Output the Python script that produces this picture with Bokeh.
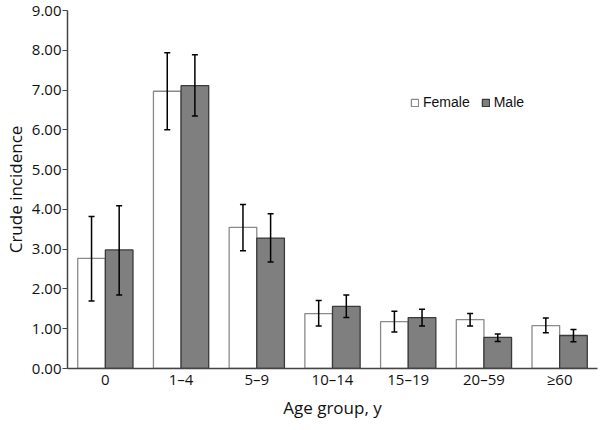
from bokeh.plotting import figure
from bokeh.models import (ColumnDataSource, FactorRange, Whisker, TeeHead, Legend,
                          LegendItem, NumeralTickFormatter, FixedTicker)
from bokeh.transform import dodge
from bokeh.embed import file_html
from bokeh.resources import INLINE

groups = ["0", "1\u20134", "5\u20139", "10\u201314", "15\u201319", "20\u201359", "\u226560"]
female = [2.77, 6.97, 3.55, 1.38, 1.18, 1.23, 1.08]
female_lo = [1.70, 6.00, 2.96, 1.07, 0.92, 1.07, 0.90]
female_hi = [3.82, 7.94, 4.12, 1.71, 1.44, 1.38, 1.27]
male = [2.98, 7.11, 3.28, 1.56, 1.28, 0.78, 0.83]
male_lo = [1.85, 6.35, 2.68, 1.28, 1.07, 0.68, 0.67]
male_hi = [4.09, 7.89, 3.89, 1.85, 1.49, 0.87, 0.98]
y_ticks = [0, 1, 2, 3, 4, 5, 6, 7, 8, 9]

src = ColumnDataSource(dict(g=groups, f=female, flo=female_lo, fhi=female_hi,
                            m=male, mlo=male_lo, mhi=male_hi))

FONT = "Open Sans"
p = figure(x_range=FactorRange(*groups, range_padding=0), y_range=(0, 9),
           width=600, height=430, output_backend="svg", toolbar_location=None,
           min_border_left=66, min_border_right=3, min_border_top=10, min_border_bottom=62)
p.outline_line_color = None
p.xgrid.visible = False
p.ygrid.visible = False
p.background_fill_color = "white"

bw = 0.365
rf = p.vbar(x=dodge("g", -bw / 2, range=p.x_range), top="f", width=bw, source=src,
            fill_color="white", line_color="#8a8a8a", line_width=1.3)
rm = p.vbar(x=dodge("g", bw / 2, range=p.x_range), top="m", width=bw, source=src,
            fill_color="#7f7f7f", line_color="#3a3a3a", line_width=1.3)

for key, off in (("f", -bw / 2), ("m", bw / 2)):
    w = Whisker(base=dodge("g", off, range=p.x_range), lower=key + "lo", upper=key + "hi",
                source=src, line_color="black", line_width=1.5, level="overlay",
                upper_head=TeeHead(size=6, line_color="black", line_width=1.5),
                lower_head=TeeHead(size=6, line_color="black", line_width=1.5))
    p.add_layout(w)

# axes
p.yaxis.ticker = FixedTicker(ticks=y_ticks)
p.yaxis.formatter = NumeralTickFormatter(format="0.00")
p.yaxis.minor_tick_line_color = None
p.yaxis.major_tick_in = 0
p.yaxis.major_tick_out = 5
p.yaxis.axis_line_color = "#444444"
p.yaxis.major_tick_line_color = "#444444"
p.yaxis.axis_line_width = 1.5
p.yaxis.major_label_text_font = FONT
p.yaxis.major_label_text_font_size = "15px"
p.yaxis.major_label_text_color = "#111111"
p.yaxis.major_label_standoff = 1
p.yaxis.axis_label = "Crude incidence"
p.yaxis.axis_label_text_font = FONT
p.yaxis.axis_label_text_font_size = "17px"
p.yaxis.axis_label_text_font_style = "normal"
p.yaxis.axis_label_text_color = "#111111"
p.yaxis.axis_label_standoff = 2

p.xaxis.major_tick_line_color = None
p.xaxis.minor_tick_line_color = None
p.xaxis.axis_line_color = "#444444"
p.xaxis.axis_line_width = 1.5
p.xaxis.major_label_text_font = FONT
p.xaxis.major_label_text_font_size = "15px"
p.xaxis.major_label_text_color = "#111111"
p.xaxis.major_label_standoff = -6
p.xaxis.axis_label = "Age group, y"
p.xaxis.axis_label_text_font = FONT
p.xaxis.axis_label_text_font_size = "17px"
p.xaxis.axis_label_text_font_style = "normal"
p.xaxis.axis_label_text_color = "#111111"
p.xaxis.axis_label_standoff = 4

legend = Legend(items=[LegendItem(label="Female", renderers=[rf]),
                       LegendItem(label="Male", renderers=[rm])],
                orientation="horizontal", location=(343, 258),
                glyph_width=9, glyph_height=9, label_standoff=4, spacing=11,
                padding=0, margin=0, border_line_color=None,
                background_fill_alpha=0,
                label_text_font="Liberation Sans", label_text_font_size="14px",
                label_text_color="#111111")
p.add_layout(legend, "center")

open("out.html", "w").write(file_html(p, INLINE))
